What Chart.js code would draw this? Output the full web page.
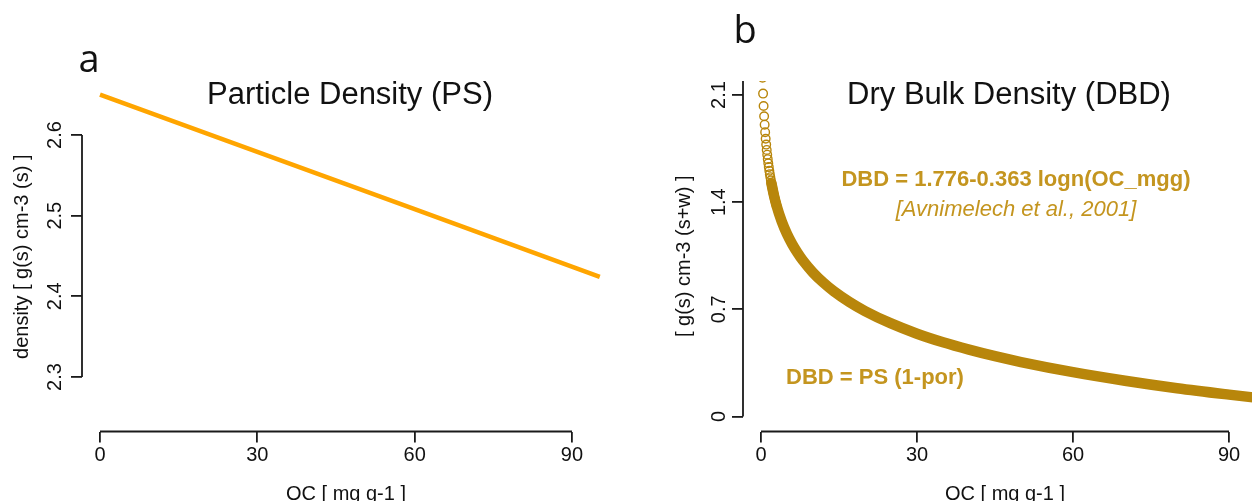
<!DOCTYPE html>
<html>
<head>
<meta charset="utf-8">
<script src="https://cdn.jsdelivr.net/npm/chart.js@4.4.0/dist/chart.umd.min.js"></script>
<style>
  html, body { margin: 0; padding: 0; width: 1252px; height: 501px; overflow: hidden; background: #fff; }
  .panel { position: absolute; top: 0; height: 520px; }
  #wrapA { left: 0; width: 626px; }
  #wrapB { left: 626px; width: 700px; }
  .lbl { position: absolute; white-space: nowrap; line-height: 1; transform: translate(-50%, -50%);
         font-family: "Liberation Sans", Arial, sans-serif; color: #111; }
  .letter { font-family: "Open Sans", sans-serif; font-size: 38px; }
  .title { font-size: 31px; }
  .note { font-size: 22px; color: #c4951f; }
  .bold { font-weight: bold; }
  .ital { font-style: italic; }
</style>
</head>
<body>
<div class="panel" id="wrapA"><canvas id="chartA"></canvas></div>
<div class="panel" id="wrapB"><canvas id="chartB"></canvas></div>

<div class="lbl letter" style="left:89px; top:57px;">a</div>
<div class="lbl letter" style="left:745px; top:28px;">b</div>
<div class="lbl title" style="left:350px; top:93px;">Particle Density (PS)</div>
<div class="lbl title" style="left:1009px; top:93px;">Dry Bulk Density (DBD)</div>
<div class="lbl note bold" style="left:1016px; top:179px;">DBD = 1.776-0.363 logn(OC_mgg)</div>
<div class="lbl note ital" style="left:1016px; top:209px;">[Avnimelech et al., 2001]</div>
<div class="lbl note bold" style="left:875px; top:377px;">DBD = PS (1-por)</div>

<script>
// panel a: particle density vs organic carbon
const psOC = [0, 30, 60, 95.3];
const psDensity = [2.65, 2.579, 2.508, 2.424];

// panel b: dry bulk density, separate circles near the top
const dbdCircleOC = [0.3, 0.4, 0.5, 0.6, 0.7, 0.8, 0.9, 1.0, 1.1, 1.2, 1.3, 1.4, 1.5, 1.6, 1.7,
                     1.8, 1.9, 2.0, 2.1, 2.2, 2.3, 2.4, 2.5, 2.6, 2.7, 2.8, 2.9, 3.0];
const dbdCircleValues = [2.213, 2.109, 2.028, 1.961, 1.906, 1.857, 1.814, 1.776, 1.741, 1.710, 1.681,
                         1.654, 1.629, 1.605, 1.583, 1.563, 1.543, 1.524, 1.507, 1.490, 1.474, 1.458,
                         1.443, 1.429, 1.415, 1.402, 1.390, 1.377];
// ...and the solid band the overlapping circles form further right
const dbdBandOC = [2, 2.5, 3, 4, 5, 6, 7, 8, 10, 12, 14, 17, 20, 25, 30, 35, 40, 45, 50, 60, 70, 80, 90, 100];
const dbdBandValues = [1.524, 1.443, 1.377, 1.273, 1.192, 1.126, 1.070, 1.021, 0.940, 0.874, 0.818,
                       0.748, 0.689, 0.608, 0.541, 0.485, 0.437, 0.394, 0.356, 0.290, 0.234, 0.185,
                       0.143, 0.104];

const ocTicks = [0, 30, 60, 90];
const ocTickLabels = ["0", "30", "60", "90"];
const psTicks = [2.3, 2.4, 2.5, 2.6];
const psTickLabels = ["2.3", "2.4", "2.5", "2.6"];
const dbdTicks = [0, 0.7, 1.4, 2.1];
const dbdTickLabels = ["0", "0.7", "1.4", "2.1"];

const family = '"Liberation Sans", Arial, sans-serif';
const axisColor = "#1a1a1a";
const textColor = "#111";

const toPoints = (xs, ys) => xs.map((x, i) => ({ x: x, y: ys[i] }));

// R style axes: line only spans first to last tick
const axisLines = {
  id: "axisLines",
  afterDraw(chart, args, opts) {
    const { ctx, chartArea, scales: { x, y } } = chart;
    const xt = x.ticks, yt = y.ticks;
    ctx.save();
    ctx.strokeStyle = axisColor;
    ctx.lineWidth = 1.8;
    ctx.beginPath();
    ctx.moveTo(x.getPixelForValue(xt[0].value), chartArea.bottom);
    ctx.lineTo(x.getPixelForValue(xt[xt.length - 1].value), chartArea.bottom);
    ctx.moveTo(chartArea.left, y.getPixelForValue(yt[0].value));
    ctx.lineTo(chartArea.left, opts.toTop ? chartArea.top : y.getPixelForValue(yt[yt.length - 1].value));
    ctx.stroke();
    ctx.restore();
  }
};

function xScale(min, max) {
  return {
    type: "linear", min: min, max: max,
    afterBuildTicks: s => { s.ticks = ocTicks.map(v => ({ value: v })); },
    afterFit: s => { s.height = 88.5; },
    border: { display: false },
    grid: { drawOnChartArea: false, drawTicks: true, tickLength: 11, color: axisColor, lineWidth: 1.8 },
    ticks: { callback: (v, i) => ocTickLabels[i], color: textColor, font: { family: family, size: 20 },
             padding: 0.5, maxRotation: 0 },
    title: { display: true, text: "OC [ mg g-1 ]", color: textColor, font: { family: family, size: 20 },
             padding: { top: 0, bottom: 14 } }
  };
}

function yScale(min, max, ticks, labels, width, tickPad, title, titlePad) {
  return {
    type: "linear", min: min, max: max,
    afterBuildTicks: s => { s.ticks = ticks.map(v => ({ value: v })); },
    afterFit: s => { s.width = width; },
    border: { display: false },
    grid: { drawOnChartArea: false, drawTicks: true, tickLength: 11, color: axisColor, lineWidth: 1.8 },
    ticks: { callback: (v, i) => labels[i], color: textColor, font: { family: family, size: 20 },
             minRotation: 90, maxRotation: 90, crossAlign: "center", padding: tickPad },
    title: { display: true, text: title, color: textColor, font: { family: family, size: 20 },
             padding: { top: titlePad, bottom: 0 } }
  };
}

const common = {
  responsive: true,
  maintainAspectRatio: false,
  animation: false,
  plugins: { legend: { display: false }, tooltip: { enabled: false } }
};

new Chart(document.getElementById("chartA"), {
  type: "scatter",
  data: {
    datasets: [{
      data: toPoints(psOC, psDensity),
      showLine: true,
      borderColor: "#FFA500",
      borderWidth: 4.5,
      pointRadius: 0,
      fill: false
    }]
  },
  options: Object.assign({}, common, {
    layout: { padding: { top: 82, right: 16, left: 0, bottom: 0 } },
    scales: {
      x: xScale(-3.43, 97.25),
      y: yScale(2.2324, 2.6657, psTicks, psTickLabels, 82, 2, "density [ g(s) cm-3 (s) ]", 10)
    }
  }),
  plugins: [axisLines]
});

new Chart(document.getElementById("chartB"), {
  type: "scatter",
  data: {
    datasets: [{
      data: toPoints(dbdBandOC, dbdBandValues),
      showLine: true,
      borderColor: "#B8860B",
      borderWidth: 10.5,
      borderCapStyle: "round",
      cubicInterpolationMode: "monotone",
      pointRadius: 0,
      clip: 0
    }, {
      data: toPoints(dbdCircleOC, dbdCircleValues),
      showLine: false,
      pointStyle: "circle",
      pointRadius: 4.3,
      pointBorderWidth: 1.4,
      borderColor: "#B8860B",
      backgroundColor: "rgba(0,0,0,0)",
      clip: 0
    }]
  },
  options: Object.assign({}, common, {
    layout: { padding: { top: 81, right: 59, left: 0, bottom: 0 } },
    plugins: Object.assign({}, common.plugins, { axisLines: { toTop: true } }),
    scales: {
      x: xScale(-3.46, 97.3),
      y: yScale(-0.0978, 2.1913, dbdTicks, dbdTickLabels, 117, -1, "[ g(s) cm-3 (s+w) ]", 46)
    }
  }),
  plugins: [axisLines]
});
</script>
</body>
</html>
